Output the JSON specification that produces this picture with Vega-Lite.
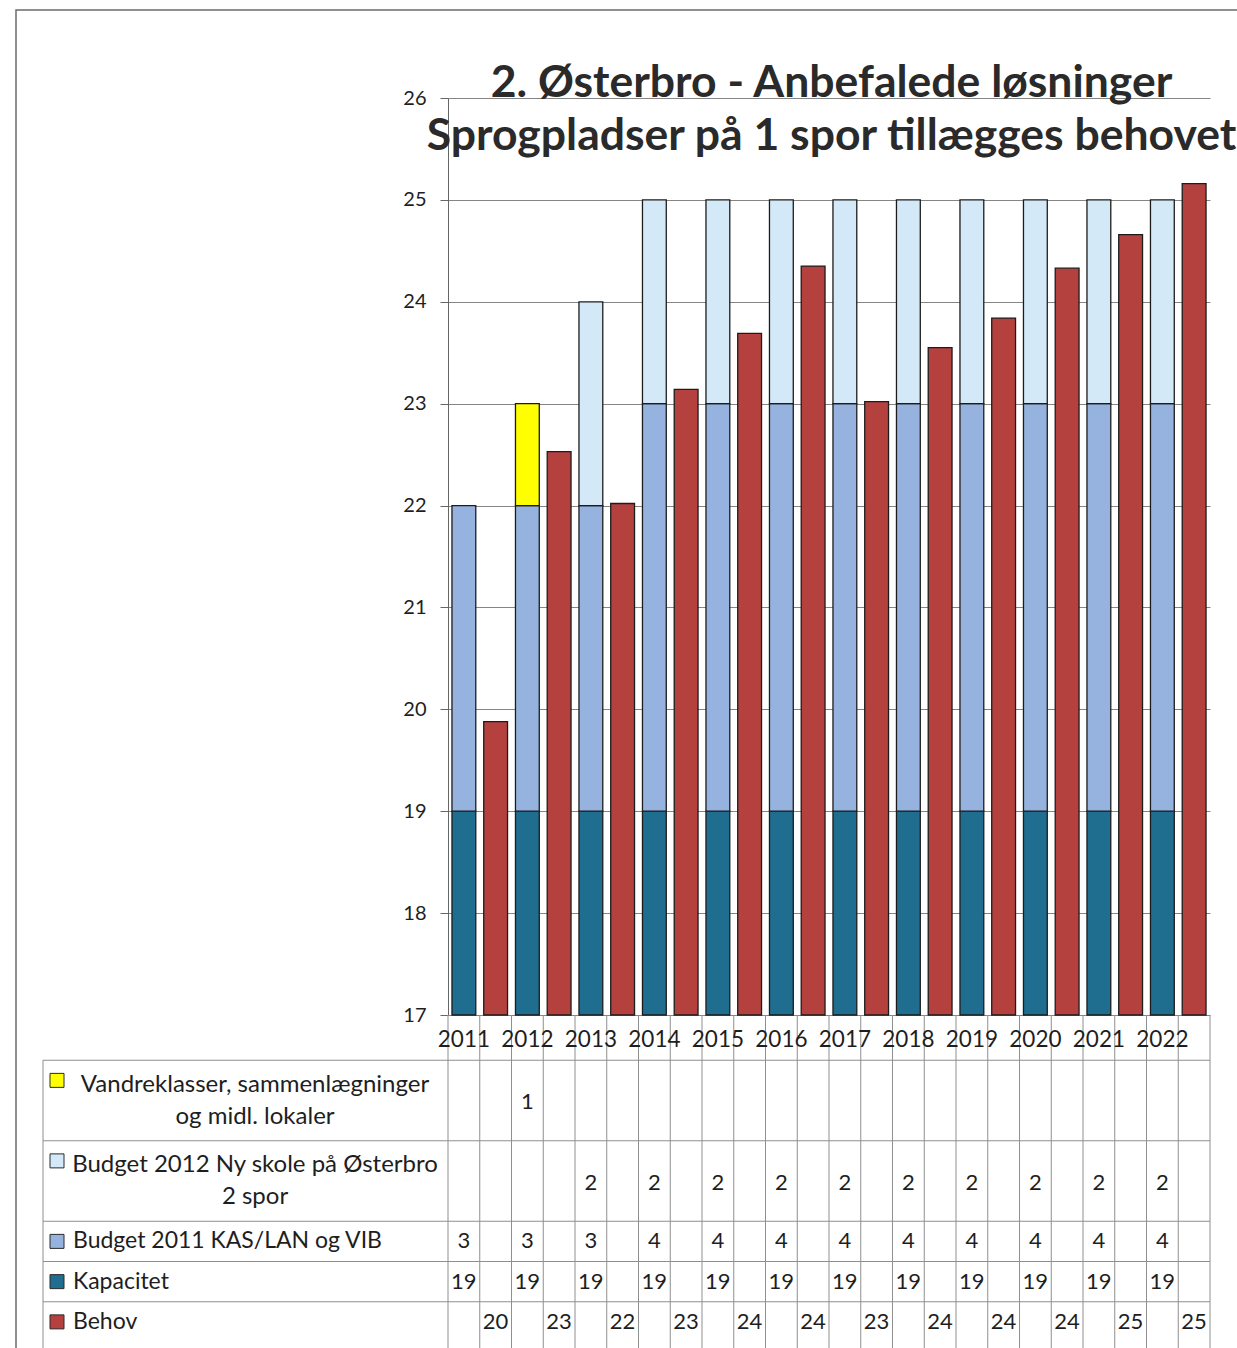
{
  "$schema": "https://vega.github.io/schema/vega-lite/v6.json",
  "width": 1227,
  "height": 1344,
  "autosize": "none",
  "padding": {"left": 16, "top": 10, "right": -6, "bottom": -6},
  "background": "white",
  "config": {
    "view": {"stroke": "#6b6b6b", "strokeWidth": 1.5},
    "font": "Lato",
    "text": {"font": "Lato", "color": "#1e1e1e"}
  },
  "title": {
    "text": ["2. Østerbro - Anbefalede løsninger", "Sprogpladser på 1 spor tillægges behovet"],
    "anchor": "middle",
    "frame": "group",
    "font": "Lato",
    "fontSize": 44.5,
    "fontWeight": "bold",
    "color": "#2a2a2a",
    "lineHeight": 53,
    "baseline": "alphabetic",
    "offset": 0,
    "dx": 202,
    "dy": 184
  },
  "datasets": {
    "kapacitet": [
      {"aar": "2011", "gruppe": "stak", "serie": "Kapacitet", "verdi": 19},
      {"aar": "2011", "gruppe": "stak", "serie": "Budget 2011", "verdi": 3},
      {"aar": "2011", "gruppe": "behov", "serie": "Behov", "verdi": 19.88},
      {"aar": "2012", "gruppe": "stak", "serie": "Kapacitet", "verdi": 19},
      {"aar": "2012", "gruppe": "stak", "serie": "Budget 2011", "verdi": 3},
      {"aar": "2012", "gruppe": "stak", "serie": "Vandreklasser", "verdi": 1},
      {"aar": "2012", "gruppe": "behov", "serie": "Behov", "verdi": 22.53},
      {"aar": "2013", "gruppe": "stak", "serie": "Kapacitet", "verdi": 19},
      {"aar": "2013", "gruppe": "stak", "serie": "Budget 2011", "verdi": 3},
      {"aar": "2013", "gruppe": "stak", "serie": "Budget 2012", "verdi": 2},
      {"aar": "2013", "gruppe": "behov", "serie": "Behov", "verdi": 22.02},
      {"aar": "2014", "gruppe": "stak", "serie": "Kapacitet", "verdi": 19},
      {"aar": "2014", "gruppe": "stak", "serie": "Budget 2011", "verdi": 4},
      {"aar": "2014", "gruppe": "stak", "serie": "Budget 2012", "verdi": 2},
      {"aar": "2014", "gruppe": "behov", "serie": "Behov", "verdi": 23.14},
      {"aar": "2015", "gruppe": "stak", "serie": "Kapacitet", "verdi": 19},
      {"aar": "2015", "gruppe": "stak", "serie": "Budget 2011", "verdi": 4},
      {"aar": "2015", "gruppe": "stak", "serie": "Budget 2012", "verdi": 2},
      {"aar": "2015", "gruppe": "behov", "serie": "Behov", "verdi": 23.69},
      {"aar": "2016", "gruppe": "stak", "serie": "Kapacitet", "verdi": 19},
      {"aar": "2016", "gruppe": "stak", "serie": "Budget 2011", "verdi": 4},
      {"aar": "2016", "gruppe": "stak", "serie": "Budget 2012", "verdi": 2},
      {"aar": "2016", "gruppe": "behov", "serie": "Behov", "verdi": 24.35},
      {"aar": "2017", "gruppe": "stak", "serie": "Kapacitet", "verdi": 19},
      {"aar": "2017", "gruppe": "stak", "serie": "Budget 2011", "verdi": 4},
      {"aar": "2017", "gruppe": "stak", "serie": "Budget 2012", "verdi": 2},
      {"aar": "2017", "gruppe": "behov", "serie": "Behov", "verdi": 23.02},
      {"aar": "2018", "gruppe": "stak", "serie": "Kapacitet", "verdi": 19},
      {"aar": "2018", "gruppe": "stak", "serie": "Budget 2011", "verdi": 4},
      {"aar": "2018", "gruppe": "stak", "serie": "Budget 2012", "verdi": 2},
      {"aar": "2018", "gruppe": "behov", "serie": "Behov", "verdi": 23.55},
      {"aar": "2019", "gruppe": "stak", "serie": "Kapacitet", "verdi": 19},
      {"aar": "2019", "gruppe": "stak", "serie": "Budget 2011", "verdi": 4},
      {"aar": "2019", "gruppe": "stak", "serie": "Budget 2012", "verdi": 2},
      {"aar": "2019", "gruppe": "behov", "serie": "Behov", "verdi": 23.84},
      {"aar": "2020", "gruppe": "stak", "serie": "Kapacitet", "verdi": 19},
      {"aar": "2020", "gruppe": "stak", "serie": "Budget 2011", "verdi": 4},
      {"aar": "2020", "gruppe": "stak", "serie": "Budget 2012", "verdi": 2},
      {"aar": "2020", "gruppe": "behov", "serie": "Behov", "verdi": 24.33},
      {"aar": "2021", "gruppe": "stak", "serie": "Kapacitet", "verdi": 19},
      {"aar": "2021", "gruppe": "stak", "serie": "Budget 2011", "verdi": 4},
      {"aar": "2021", "gruppe": "stak", "serie": "Budget 2012", "verdi": 2},
      {"aar": "2021", "gruppe": "behov", "serie": "Behov", "verdi": 24.66},
      {"aar": "2022", "gruppe": "stak", "serie": "Kapacitet", "verdi": 19},
      {"aar": "2022", "gruppe": "stak", "serie": "Budget 2011", "verdi": 4},
      {"aar": "2022", "gruppe": "stak", "serie": "Budget 2012", "verdi": 2},
      {"aar": "2022", "gruppe": "behov", "serie": "Behov", "verdi": 25.16}
    ],
    "etiketter": [
      {"serie": "Vandreklasser", "tekst": "Vandreklasser, sammenlægninger\nog midl. lokaler"},
      {"serie": "Budget 2012", "tekst": "Budget 2012 Ny skole på Østerbro\n2 spor"},
      {"serie": "Budget 2011", "tekst": "Budget 2011 KAS/LAN og VIB"},
      {"serie": "Kapacitet", "tekst": "Kapacitet"},
      {"serie": "Behov", "tekst": "Behov"}
    ]
  },
  "layer": [
    {
      "data": {"name": "kapacitet"},
      "layer": [
        {
          "mark": {"type": "bar", "stroke": "#1c1c1c", "strokeWidth": 1.3},
          "encoding": {
            "x": {"field": "aar", "type": "ordinal", "scale": {"range": [432, 1194], "paddingInner": 0, "paddingOuter": 0}, "axis": null},
            "xOffset": {"field": "gruppe", "type": "nominal", "scale": {"domain": ["stak", "behov"], "paddingInner": 0.25, "paddingOuter": 0.125}},
            "y": {
              "field": "verdi", "type": "quantitative", "stack": "zero",
              "scale": {"domain": [17, 26], "range": [1005, 88], "clamp": true, "nice": false, "zero": false},
              "axis": {
                "orient": "left", "offset": -432, "values": [17, 18, 19, 20, 21, 22, 23, 24, 25, 26], "format": "d",
                "grid": true, "gridColor": "#858585", "gridWidth": 1,
                "domain": true, "domainColor": "#666666", "tickSize": 8, "tickColor": "#666666",
                "labelFontSize": 20, "labelColor": "#1e1e1e", "labelPadding": 14, "labelFont": "Lato", "title": null
              }
            },
            "order": {"field": "verdi", "sort": "descending"},
            "color": {
              "field": "serie", "type": "nominal",
              "scale": {
                "domain": ["Kapacitet", "Budget 2011", "Budget 2012", "Vandreklasser", "Behov"],
                "range": ["#1f6d8f", "#95b3de", "#d3e9f7", "#ffff00", "#b5413f"]
              },
              "legend": null
            }
          }
        },
        {
          "transform": [{"filter": "datum.serie == 'Kapacitet'"}],
          "mark": {"type": "rule", "color": "#8f8f8f", "strokeWidth": 1},
          "encoding": {
            "x": {"field": "aar", "type": "ordinal", "bandPosition": 0, "axis": null},
            "y": {"datum": 17, "type": "quantitative"},
            "y2": {"value": "height"}
          }
        },
        {
          "transform": [{"filter": "datum.serie == 'Kapacitet'"}],
          "mark": {"type": "rule", "color": "#8f8f8f", "strokeWidth": 1},
          "encoding": {
            "x": {"field": "aar", "type": "ordinal", "bandPosition": 0.5, "axis": null},
            "y": {"datum": 17, "type": "quantitative"},
            "y2": {"value": "height"}
          }
        },
        {
          "transform": [{"filter": "datum.serie == 'Kapacitet' && datum.aar == '2022'"}],
          "mark": {"type": "rule", "color": "#8f8f8f", "strokeWidth": 1},
          "encoding": {
            "x": {"field": "aar", "type": "ordinal", "bandPosition": 1, "axis": null},
            "y": {"datum": 17, "type": "quantitative"},
            "y2": {"value": "height"}
          }
        }
      ]
    },
    {
      "data": {"name": "kapacitet"},
      "layer": [
        {
          "transform": [{"filter": {"field": "serie", "oneOf": ["Budget 2011", "Kapacitet", "Behov"]}}],
          "mark": {"type": "text", "fontSize": 22, "baseline": "middle", "align": "center"},
          "encoding": {
            "x": {"field": "aar", "type": "ordinal", "scale": {"range": [432, 1194], "paddingInner": 0, "paddingOuter": 0}, "axis": null},
            "xOffset": {"field": "gruppe", "type": "nominal", "scale": {"domain": ["stak", "behov"], "paddingInner": 0.25, "paddingOuter": 0.125}},
            "y": {
              "field": "serie", "type": "nominal",
              "scale": {"domain": ["År", "Vandreklasser", "Vandreklasser (2)", "Budget 2012", "Budget 2012 (2)", "Budget 2011", "Kapacitet", "Behov"], "range": [1010, 1332], "paddingInner": 0, "paddingOuter": 0},
              "axis": null
            },
            "text": {"field": "verdi", "type": "quantitative", "format": ".0f"}
          }
        },
        {
          "transform": [{"filter": {"field": "serie", "oneOf": ["Vandreklasser", "Budget 2012"]}}],
          "mark": {"type": "text", "fontSize": 22, "baseline": "middle", "align": "center", "dy": 22},
          "encoding": {
            "x": {"field": "aar", "type": "ordinal", "axis": null},
            "xOffset": {"field": "gruppe", "type": "nominal"},
            "y": {"field": "serie", "type": "nominal", "axis": null},
            "text": {"field": "verdi", "type": "quantitative", "format": ".0f"}
          }
        },
        {
          "transform": [{"filter": "datum.serie == 'Kapacitet'"}],
          "mark": {"type": "text", "fontSize": 22.5, "baseline": "middle", "align": "center"},
          "encoding": {
            "x": {"field": "aar", "type": "ordinal", "axis": null},
            "xOffset": {"field": "gruppe", "type": "nominal"},
            "y": {"datum": "År", "type": "nominal", "axis": null},
            "text": {"field": "aar", "type": "nominal"}
          }
        }
      ]
    },
    {
      "data": {"name": "etiketter"},
      "layer": [
        {
          "mark": {"type": "rule", "color": "#8f8f8f", "strokeWidth": 1},
          "encoding": {
            "x": {"datum": 0, "type": "quantitative", "scale": {"domain": [0, 1], "range": [27, 432]}, "axis": null},
            "x2": {"datum": 2.8815},
            "y": {
              "field": "serie", "type": "nominal", "bandPosition": 0,
              "scale": {"domain": ["År", "Vandreklasser", "Vandreklasser (2)", "Budget 2012", "Budget 2012 (2)", "Budget 2011", "Kapacitet", "Behov"], "range": [1010, 1332], "paddingInner": 0, "paddingOuter": 0},
              "axis": null
            }
          }
        },
        {
          "transform": [{"filter": "datum.serie == 'Vandreklasser'"}],
          "mark": {"type": "rule", "color": "#8f8f8f", "strokeWidth": 1},
          "encoding": {
            "x": {"datum": 0, "type": "quantitative"},
            "y": {"field": "serie", "type": "nominal", "bandPosition": 0},
            "y2": {"value": "height"}
          }
        },
        {
          "mark": {"type": "point", "shape": "square", "filled": true, "size": 196, "stroke": "#2a2a2a", "strokeWidth": 1, "opacity": 1},
          "encoding": {
            "x": {"datum": 0.0346, "type": "quantitative"},
            "y": {"field": "serie", "type": "nominal"},
            "color": {"field": "serie", "type": "nominal", "legend": null}
          }
        },
        {
          "transform": [{"filter": {"field": "serie", "oneOf": ["Budget 2011", "Kapacitet", "Behov"]}}],
          "mark": {"type": "text", "fontSize": 23, "baseline": "middle", "align": "left"},
          "encoding": {
            "x": {"datum": 0.0741, "type": "quantitative"},
            "y": {"field": "serie", "type": "nominal"},
            "text": {"field": "tekst", "type": "nominal"}
          }
        },
        {
          "transform": [{"filter": {"field": "serie", "oneOf": ["Vandreklasser", "Budget 2012"]}}],
          "mark": {"type": "text", "fontSize": 24, "baseline": "middle", "align": "center", "lineBreak": "\n", "lineHeight": 32, "dy": -16},
          "encoding": {
            "x": {"datum": 0.5235, "type": "quantitative"},
            "y": {"field": "serie", "type": "nominal", "bandPosition": 1},
            "text": {"field": "tekst", "type": "nominal"}
          }
        }
      ]
    }
  ],
  "resolve": {"scale": {"x": "independent", "y": "independent"}}
}
